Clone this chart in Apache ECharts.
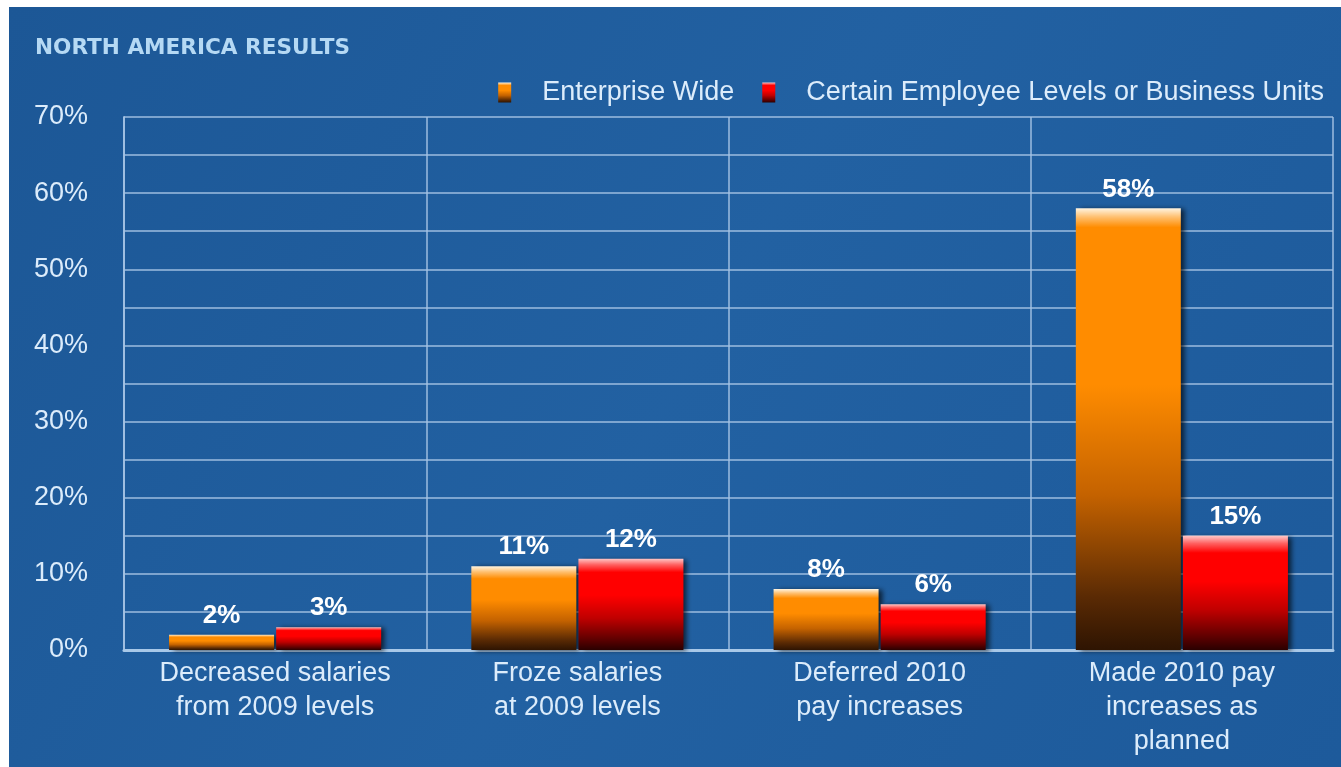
<!DOCTYPE html>
<html>
<head>
<meta charset="utf-8">
<title>North America Results</title>
<script src="https://cdn.jsdelivr.net/npm/echarts@6/dist/echarts.min.js"></script>
<style>
  html, body { margin: 0; padding: 0; background: #ffffff; }
  #chart { position: absolute; left: 9px; top: 7px; width: 1332px; height: 760px; }
</style>
</head>
<body>
<div id="chart"></div>
<script>
// Survey categories and results (percent of respondents)
const categories = [
  'Decreased salaries\nfrom 2009 levels',
  'Froze salaries\nat 2009 levels',
  'Deferred 2010\npay increases',
  'Made 2010 pay\nincreases as\nplanned'
];
const enterpriseWide = [2, 11, 8, 58];
const certainLevels = [3, 12, 6, 15];
const seriesNames = ['Enterprise Wide', 'Certain Employee Levels or Business Units'];
const yTicks = [0, 10, 20, 30, 40, 50, 60, 70];

const chart = echarts.init(document.getElementById('chart'));

// Vertical gradient with a soft bright band at the top of each bar
function barFill(kind, value) {
  const hl = value ? Math.min(0.15, 2.5 / value) : 0.05;
  const c = kind === 'orange'
    ? { top: '#fff4e0', soft: '#ffc070', main: '#ff8c00', mid: '#c46200', low: '#5a2a04', bot: '#2e1402' }
    : { top: '#ffc8c8', soft: '#ff6060', main: '#ff0000', mid: '#c00000', low: '#600000', bot: '#2a0000' };
  return new echarts.graphic.LinearGradient(0, 0, 0, 1, [
    { offset: 0, color: c.top },
    { offset: hl * 0.45, color: c.soft },
    { offset: hl, color: c.main },
    { offset: Math.max(hl + 0.05, 0.4), color: c.main },
    { offset: 0.65, color: c.mid },
    { offset: 0.88, color: c.low },
    { offset: 1, color: c.bot }
  ]);
}

function barData(values, kind) {
  return values.map(v => ({
    value: v,
    itemStyle: { color: barFill(kind, v) }
  }));
}

const textColor = '#dcecfb';
const gridLine = { color: 'rgba(165,195,228,0.7)', width: 2 };

const valueLabel = {
  show: true,
  position: 'top',
  distance: 6,
  formatter: '{c}%',
  color: '#ffffff',
  fontFamily: 'Liberation Sans, Arial, sans-serif',
  fontWeight: 'bold',
  fontSize: 26
};

const barShadow = {
  shadowColor: 'rgba(0,0,0,0.65)',
  shadowBlur: 5,
  shadowOffsetX: 4,
  shadowOffsetY: 1
};

chart.setOption({
  backgroundColor: new echarts.graphic.LinearGradient(0, 0, 1, 1, [
    { offset: 0, color: '#1c5796' },
    { offset: 0.5, color: '#2261a2' },
    { offset: 1, color: '#1d5a9b' }
  ]),
  title: {
    text: 'NORTH AMERICA RESULTS',
    left: 21,
    top: 25,
    textStyle: {
      color: '#b5d9f4',
      fontFamily: 'DejaVu Sans, sans-serif',
      fontWeight: 'bold',
      fontSize: 21.6
    }
  },
  legend: {
    right: 12,
    top: 67,
    itemWidth: 13,
    itemHeight: 20,
    itemGap: 28,
    icon: 'rect',
    data: seriesNames,
    textStyle: {
      color: textColor,
      fontFamily: 'Liberation Sans, Arial, sans-serif',
      fontSize: 27,
      padding: [0, 0, 0, 26]
    }
  },
  grid: { left: 115, right: 8, top: 110, bottom: 117 },
  xAxis: {
    type: 'category',
    data: categories,
    axisTick: { show: false },
    axisLine: { show: true, lineStyle: { color: '#a8c8e8', width: 3 } },
    splitLine: { show: true, lineStyle: gridLine },
    axisLabel: {
      color: textColor,
      fontFamily: 'Liberation Sans, Arial, sans-serif',
      fontSize: 27,
      lineHeight: 34,
      margin: 7
    }
  },
  yAxis: {
    type: 'value',
    min: 0,
    max: 70,
    interval: 10,
    axisLine: { show: true, lineStyle: { color: 'rgba(165,195,228,0.85)', width: 2 } },
    axisTick: { show: false },
    splitLine: { show: true, lineStyle: gridLine },
    minorTick: { show: false, splitNumber: 2 },
    minorSplitLine: { show: true, lineStyle: gridLine },
    axisLabel: {
      color: textColor,
      fontFamily: 'Liberation Sans, Arial, sans-serif',
      fontSize: 27,
      margin: 36,
      formatter: v => (yTicks.includes(v) ? v + '%' : '')
    }
  },
  series: [
    {
      name: seriesNames[0],
      type: 'bar',
      barWidth: 105,
      barGap: '2%',
      itemStyle: Object.assign({ color: barFill('orange', 6) }, barShadow),
      label: valueLabel,
      data: barData(enterpriseWide, 'orange')
    },
    {
      name: seriesNames[1],
      type: 'bar',
      barWidth: 105,
      barGap: '2%',
      itemStyle: Object.assign({ color: barFill('red', 6) }, barShadow),
      label: valueLabel,
      data: barData(certainLevels, 'red')
    }
  ]
});
</script>
</body>
</html>
